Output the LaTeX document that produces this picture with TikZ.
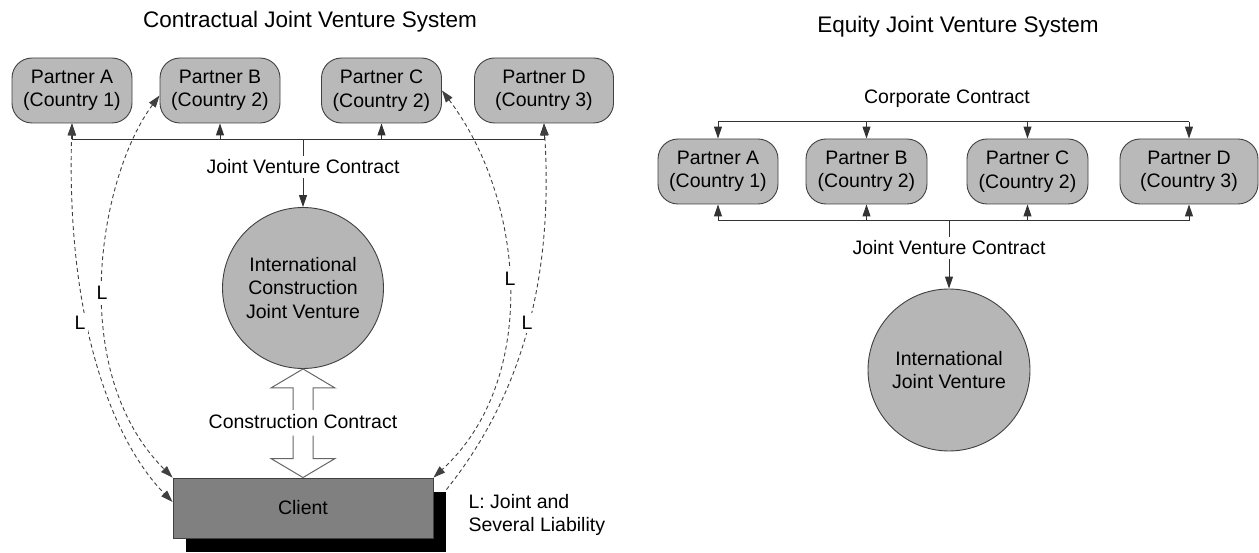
\documentclass[tikz,border=0pt]{standalone}
\usepackage{fontspec}
\setmainfont{Liberation Sans}
\usetikzlibrary{arrows.meta,calc,shadows}
\begin{document}
\begin{tikzpicture}[x=1pt,y=-1pt,
  every node/.style={font=\fontsize{19.5}{23.5}\selectfont, text=black},
  heading/.style={font=\fontsize{22.5}{26}\selectfont},
  partner/.style={draw=black!75, fill=gray!55!white, rounded corners=20pt,
    minimum height=65pt, align=center, inner sep=0pt, line width=0.9pt},
  hub/.style={circle, draw=black!75, fill=gray!57!white, minimum size=161pt,
    align=center, inner sep=0pt, line width=0.9pt},
  wire/.style={draw=black!80, line width=1pt},
  arrowend/.style={-{Triangle[length=12pt,width=8pt]}},
  liab/.style={draw=black!75, dash pattern=on 4pt off 3pt, line width=0.9pt},
  headL/.style={{Triangle[length=12pt,width=8pt]}-{Triangle[length=12pt,width=8pt]}},
  lbl/.style={inner sep=4pt},
  lmark/.style={fill=white, inner sep=3pt},
  hollow/.style={draw=black!60, fill=white, line width=1pt, line join=miter},
]
\useasboundingbox (0,0) rectangle (1259,553);

% ---------------- Contractual joint venture ----------------
\node[heading] (titleL) at (310,22) {Contractual Joint Venture System};

\node[partner, minimum width=120pt] (lA) at (72,90.5)  {Partner A\\(Country 1)};
\node[partner, minimum width=120pt] (lB) at (220,90.5) {Partner B\\(Country 2)};
\node[partner, minimum width=120pt] (lC) at (381.5,90.5) {Partner C\\(Country 2)};
\node[partner, minimum width=139pt] (lD) at (544,90.5) {Partner D\\(Country 3)};

\coordinate (busL) at (303,140);
\draw[wire] (lA.south |- busL) -- (lD.south |- busL);
\foreach \p in {lA,lB,lC,lD}
  \draw[wire,arrowend] (\p.south |- busL) -- (\p.south);

\node[lbl] (jvcL) at (303,167) {Joint Venture Contract};
\node[hub] (ijvL) at (303,288) {International\\Construction\\Joint Venture};
\draw[wire] (busL) -- (jvcL);
\draw[wire,arrowend] (jvcL) -- (ijvL);

\node[draw=black!75, fill=gray, minimum width=260pt, minimum height=60pt,
  inner sep=0pt, line width=0.9pt,
  drop shadow={shadow xshift=13pt, shadow yshift=-14pt, fill=black, opacity=1}]
  (client) at (303,508) {Client};

% open double arrow between the venture and the client
\node (cc) at (303,422) {Construction Contract};
\draw[hollow] ($(ijvL.south)+(-10,41)$) -- ($(ijvL.south)+(-10,19)$)
  -- ($(ijvL.south)+(-32,19)$) -- (ijvL.south) -- ($(ijvL.south)+(32,19)$)
  -- ($(ijvL.south)+(10,19)$) -- ($(ijvL.south)+(10,41)$);
\draw[hollow] ($(client.north)+(-10,-42)$) -- ($(client.north)+(-10,-19)$)
  -- ($(client.north)+(-32,-19)$) -- (client.north) -- ($(client.north)+(32,-19)$)
  -- ($(client.north)+(10,-19)$) -- ($(client.north)+(10,-42)$);

% joint and several liability links
\coordinate (shadowcorner) at ($(client.north east)+(13,12)$);
\draw[liab,headL] (lA.south) .. controls (66,320) and (112,440) .. ([yshift=6pt]client.west);
\draw[liab,headL] ([yshift=-5pt]lB.west) .. controls (100,175) and (65,370) .. (client.north west);
\draw[liab,headL] (lC.east) .. controls (525,200) and (540,380) .. (client.north east);
\draw[liab,arrowend] (shadowcorner) .. controls (510,410) and (555,300) .. (lD.south);

\node[lmark] at (80,323)  {L};
\node[lmark] at (102,293) {L};
\node[lmark] at (510,279) {L};
\node[lmark] at (527,323) {L};

\node[align=left, anchor=west] (legend) at (465,515) {L: Joint and\\Several Liability};

% ---------------- Equity joint venture ----------------
\node[heading] (titleR) at (958,27) {Equity Joint Venture System};
\node (corp) at (947,99) {Corporate Contract};

\node[partner, minimum width=120pt] (rA) at (718,171.5)   {Partner A\\(Country 1)};
\node[partner, minimum width=121pt] (rB) at (866.5,171.5) {Partner B\\(Country 2)};
\node[partner, minimum width=121pt] (rC) at (1027.5,171.5){Partner C\\(Country 2)};
\node[partner, minimum width=138pt] (rD) at (1189,171.5)  {Partner D\\(Country 3)};

\coordinate (topR) at (949,122);
\coordinate (busR) at (949,221);
\draw[wire] (rA.north |- topR) -- (rD.north |- topR);
\draw[wire] (rA.south |- busR) -- (rD.south |- busR);
\foreach \p in {rA,rB,rC,rD} {
  \draw[wire,arrowend] (\p.north |- topR) -- (\p.north);
  \draw[wire,arrowend] (\p.south |- busR) -- (\p.south);
}

\node[lbl] (jvcR) at (949,248) {Joint Venture Contract};
\node[hub, minimum size=162pt] (ijvR) at (949,370) {International\\Joint Venture};
\draw[wire] (busR) -- (jvcR);
\draw[wire,arrowend] (jvcR) -- (ijvR);
\end{tikzpicture}
\end{document}
